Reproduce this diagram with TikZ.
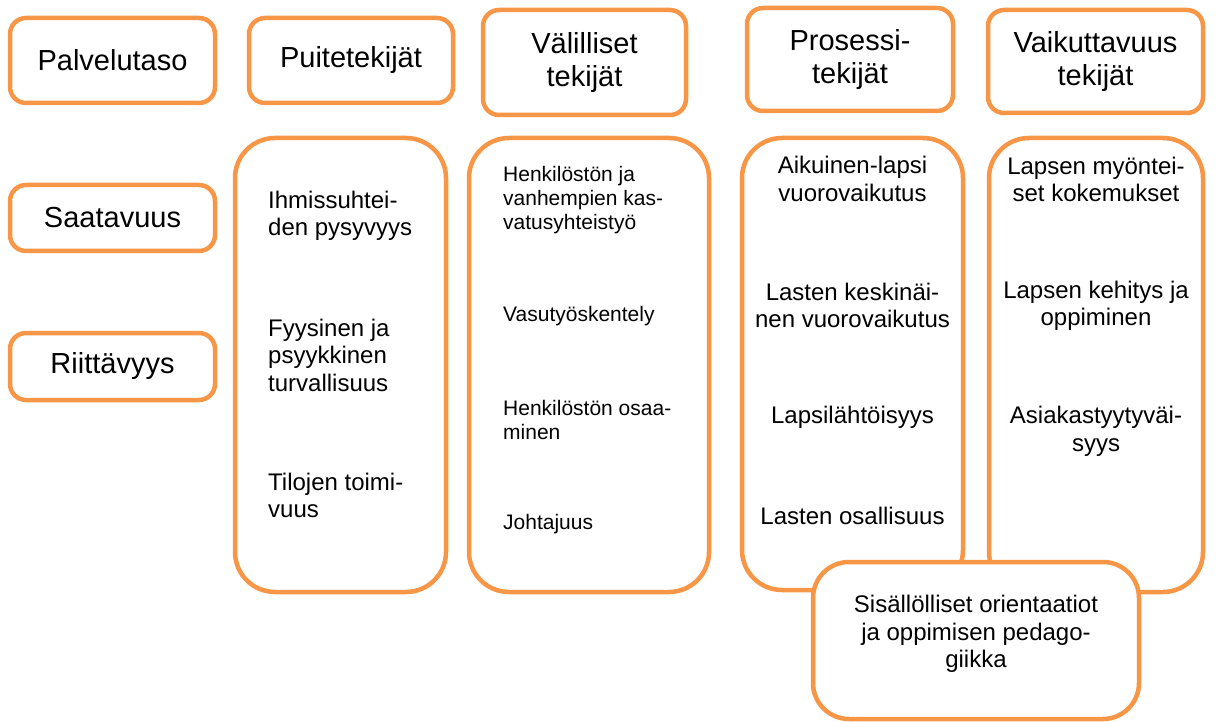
\documentclass[tikz,border=0pt]{standalone}
\usepackage{fontspec}
\setmainfont{Liberation Sans}
\definecolor{orng}{RGB}{247,150,70}
\begin{document}
\begin{tikzpicture}[x=1pt,y=-1pt,
  hdr/.style={draw=orng, line width=4.5pt, rounded corners=16pt, fill=white, align=center, inner sep=0pt, font=\fontsize{29}{33}\selectfont},
  colbox/.style={draw=orng, line width=4.5pt, rounded corners=40pt, fill=white, inner sep=0pt},
  itemL/.style={align=left, anchor=west, inner sep=0pt, font=\fontsize{24}{27.5}\selectfont},
  itemS/.style={align=left, anchor=west, inner sep=0pt, font=\fontsize{21}{24}\selectfont},
  itemC/.style={align=center, inner sep=0pt, font=\fontsize{24}{27.5}\selectfont}
]
\useasboundingbox (0,0) rectangle (1219,722);
% header row
\node[hdr, minimum width=205pt, minimum height=85pt] (palv) at (112.5,60.5) {Palvelutaso};
\node[hdr, minimum width=204pt, minimum height=85pt] (puite) at (351,60.5) {Puitetekijät};
\node[hdr, minimum width=203pt, minimum height=105pt] (valil) at (584.5,62.5) {Välilliset\\tekijät};
\node[hdr, minimum width=206pt, minimum height=103pt] (pros) at (850,59.5) {Prosessi-\\tekijät};
\node[hdr, minimum width=215pt, minimum height=103pt] (vaik) at (1095.5,61.5) {Vaikuttavuus\\tekijät};
% left labels
\node[hdr, minimum width=205pt, minimum height=66pt] (saat) at (112.5,218) {Saatavuus};
\node[hdr, minimum width=205pt, minimum height=67pt] (riit) at (112.5,366.5) {Riittävyys};
% columns
\node[colbox, minimum width=211pt, minimum height=454pt] (c1) at (340.5,365) {};
\node[colbox, minimum width=240pt, minimum height=454pt] (c2) at (589,365) {};
\node[colbox, minimum width=221pt, minimum height=452pt] (c3) at (852.5,364) {};
\node[colbox, minimum width=214pt, minimum height=454pt] (c4) at (1096,365) {};
\node[colbox, rounded corners=36pt, minimum width=326pt, minimum height=157pt] (bot) at (976,640.5) {};
% column 1
\node[itemL] (c1a) at (268,216) {Ihmissuhtei-\\den pysyvyys};
\node[itemL] (c1b) at (268,355) {Fyysinen ja\\psyykkinen\\turvallisuus};
\node[itemL] (c1c) at (268,495.5) {Tilojen toimi-\\vuus};
% column 2
\node[itemS] (c2a) at (503,200.5) {Henkilöstön ja\\vanhempien kas-\\vatusyhteistyö};
\node[itemS] (c2b) at (503,316) {Vasutyöskentely};
\node[itemS] (c2c) at (503,420) {Henkilöstön osaa-\\minen};
\node[itemS] (c2d) at (503,524) {Johtajuus};
% column 3
\node[itemC] (c3a) at (852.5,179) {Aikuinen-lapsi\\vuorovaikutus};
\node[itemC] (c3b) at (852.5,305.5) {Lasten keskinäi-\\nen vuorovaikutus};
\node[itemC] (c3c) at (852.5,417) {Lapsilähtöisyys};
\node[itemC] (c3d) at (852.5,515.5) {Lasten osallisuus};
% column 4
\node[itemC] (c4a) at (1096,179.5) {Lapsen myöntei-\\set kokemukset};
\node[itemC] (c4b) at (1096,306) {Lapsen kehitys ja\\oppiminen};
\node[itemC] (c4c) at (1096,431.5) {Asiakastyytyväi-\\syys};
% bottom box
\node[itemC] (bota) at (976,634) {Sisällölliset orientaatiot\\ja oppimisen pedago-\\giikka};
\end{tikzpicture}
\end{document}
